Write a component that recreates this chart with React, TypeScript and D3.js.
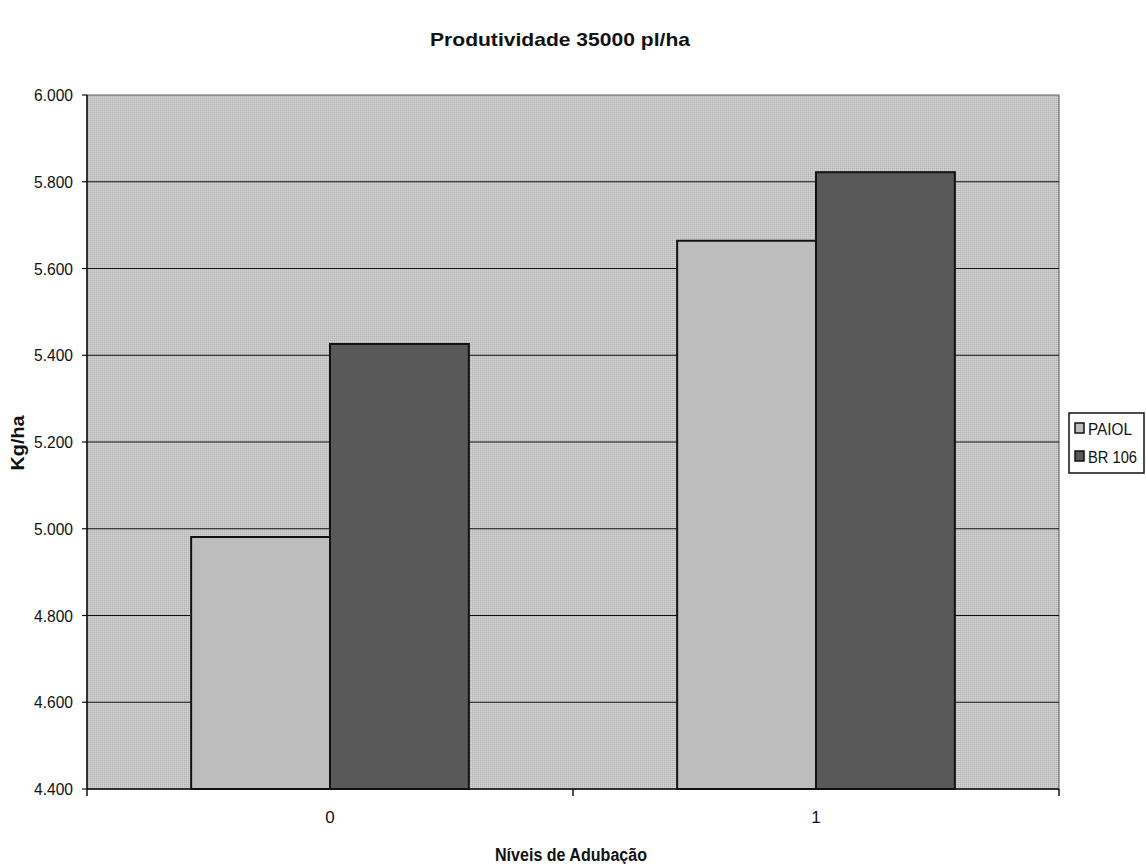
import React from "react";
import * as d3 from "d3";

const categories = ["0", "1"];
const seriesNames = ["PAIOL", "BR 106"];
const paiolValues = [4.981, 5.664];
const br106Values = [5.426, 5.822];
const yTicks = [4.4, 4.6, 4.8, 5.0, 5.2, 5.4, 5.6, 5.8, 6.0];
const colors = ["#bdbdbd", "#595959"];

const W = 1146, H = 864;
const left = 87, right = 1059, top = 95, bottom = 789;
const FONT = "'Liberation Sans Narrow', 'Arial Narrow', 'Liberation Sans', Arial, sans-serif";

export default function App() {
  const x = d3.scaleBand().domain(categories).range([left, right]).paddingInner(0).paddingOuter(0);
  const y = d3.scaleLinear().domain([4.4, 6.0]).range([bottom, top]);
  const fmt = (v: number) => v.toFixed(3);
  const series = [paiolValues, br106Values];
  // Excel gap width 150%: bar width = band / (2 + 1.5)
  const bw = x.bandwidth() / 3.5;
  return (
    <svg width={W} height={H} style={{ position: "absolute", left: 0, top: 0, background: "#fff" }}>
      <defs>
        <pattern id="dots" width="2" height="2" patternUnits="userSpaceOnUse">
          <rect width="2" height="2" fill="#c6c6c6" />
          <rect width="1" height="1" fill="#b4b4b4" />
          <rect x="1" y="1" width="1" height="1" fill="#d4d4d4" />
        </pattern>
      </defs>
      <rect x={left} y={top} width={right - left} height={bottom - top} fill="url(#dots)" stroke="#555" strokeWidth={1} />
      {yTicks.map((t) => (
        <g key={t}>
          {t > 4.4 && t < 6.0 && <line x1={left} x2={right} y1={y(t)} y2={y(t)} stroke="#111" strokeWidth={1.2} />}
          <line x1={left - 5} x2={left} y1={y(t)} y2={y(t)} stroke="#111" strokeWidth={1.2} />
          <text x={73} y={y(t)} dy="0.36em" textAnchor="end" fontFamily={FONT} fontSize={17} fill="#111" textLength={39} lengthAdjust="spacingAndGlyphs">{fmt(t)}</text>
        </g>
      ))}
      {categories.map((c, i) => {
        const x0 = (x(c) as number) + (x.bandwidth() - 2 * bw) / 2;
        return (
          <g key={c}>
            {series.map((vals, s) => (
              <rect key={s} x={x0 + s * bw} y={y(vals[i])} width={bw} height={bottom - y(vals[i])} fill={colors[s]} stroke="#111" strokeWidth={2} />
            ))}
            <text x={(x(c) as number) + x.bandwidth() / 2} y={823} textAnchor="middle" fontFamily={FONT} fontSize={17} fill="#111">{c}</text>
          </g>
        );
      })}
      <line x1={left} x2={right} y1={bottom} y2={bottom} stroke="#111" strokeWidth={1.5} />
      <line x1={left} x2={left} y1={top} y2={bottom} stroke="#111" strokeWidth={1.5} />
      {[0, 1, 2].map((k) => {
        const xx = left + k * x.bandwidth();
        return <line key={k} x1={xx} x2={xx} y1={bottom} y2={bottom + 7} stroke="#111" strokeWidth={1.5} />;
      })}
      <text x={560} y={46} textAnchor="middle" fontFamily={FONT} fontWeight="bold" fontSize={19} fill="#111" textLength={260} lengthAdjust="spacingAndGlyphs">Produtividade 35000 pl/ha</text>
      <text x={571} y={861} textAnchor="middle" fontFamily={FONT} fontWeight="bold" fontSize={18} fill="#111" textLength={152} lengthAdjust="spacingAndGlyphs">Níveis de Adubação</text>
      <text transform={`translate(24,${443}) rotate(-90)`} textAnchor="middle" fontFamily={FONT} fontWeight="bold" fontSize={18} fill="#111" textLength={55} lengthAdjust="spacingAndGlyphs">Kg/ha</text>
      <rect x={1069} y={413} width={75} height={60} fill="#fff" stroke="#111" strokeWidth={1.5} />
      {seriesNames.map((n, s) => (
        <g key={n}>
          <rect x={1075} y={423 + s * 28} width={9} height={10} fill={colors[s]} stroke="#111" strokeWidth={1.5} />
          <text x={1088} y={435 + s * 28} fontFamily={FONT} fontSize={16} fill="#111" textLength={s === 0 ? 44 : 49} lengthAdjust="spacingAndGlyphs">{n}</text>
        </g>
      ))}
    </svg>
  );
}
